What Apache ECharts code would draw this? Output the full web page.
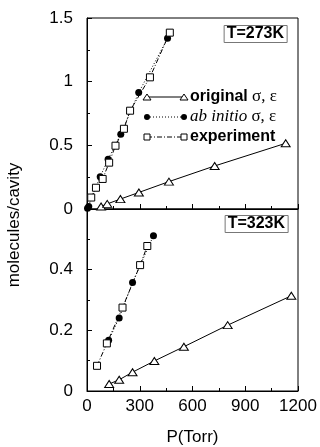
<!DOCTYPE html>
<html><head><meta charset="utf-8">
<script src="https://cdn.jsdelivr.net/npm/echarts@6/dist/echarts.min.js"></script>
<style>html,body{margin:0;padding:0;background:#fff}#c{width:320px;height:447px}</style>
</head><body><div id="c"></div>
<script>
// T = 273 K panel
const origP273 = [80, 115, 190, 295, 466, 726, 1130];
const origV273 = [0.02, 0.04, 0.078, 0.13, 0.215, 0.338, 0.516];
const abP273 = [3, 10, 75, 120, 192, 294, 458];
const abV273 = [0.006, 0.02, 0.254, 0.39, 0.588, 0.914, 1.34];
const expP273 = [24, 51, 89, 126, 162, 210, 245, 358, 471];
const expV273 = [0.09, 0.167, 0.236, 0.364, 0.497, 0.63, 0.772, 1.034, 1.385];
// T = 323 K panel
const origP323 = [126, 183, 259, 383, 551, 800, 1162];
const origV323 = [0.023, 0.037, 0.062, 0.099, 0.146, 0.217, 0.314];
const abP323 = [123, 183, 259, 378];
const abV323 = [0.167, 0.241, 0.358, 0.512];
const expP323 = [57, 113, 202, 302, 343];
const expV323 = [0.083, 0.157, 0.275, 0.415, 0.478];
// axis ticks
const xTicks = [0, 300, 600, 900, 1200];
const yTicksTop = [0, 0.5, 1, 1.5];
const yTicksBottom = [0, 0.2, 0.4, 0.6];
const panelTitles = ['T=273K', 'T=323K'];
const legendNames = ['original', 'ab initio', 'experiment'];

const zip = (a, b) => a.map((x, i) => [x, b[i]]);
const F = 'Liberation Sans';
const S = 'Liberation Serif';

const tri = {symbol: 'triangle', symbolSize: [9, 7], itemStyle: {color: '#fff', borderColor: '#000', borderWidth: 1}, lineStyle: {color: '#000', width: 1, type: 'solid'}};
const dot = {symbol: 'circle', symbolSize: 7, itemStyle: {color: '#000'}, lineStyle: {color: '#000', width: 1, type: [1, 2]}};
const sq = {symbol: 'rect', symbolSize: 7, itemStyle: {color: '#fff', borderColor: '#000', borderWidth: 1}, lineStyle: {color: '#000', width: 1, type: [5, 2, 1, 2]}};

function mk(name, style, p, v, gi) {
  return Object.assign({type: 'line', name: name, xAxisIndex: gi, yAxisIndex: gi, data: zip(p, v), showAllSymbol: true, animation: false, z: 3}, style);
}

function xAx(gi, labels) {
  return {
    gridIndex: gi, type: 'value', min: xTicks[0], max: xTicks[xTicks.length - 1], interval: xTicks[1] - xTicks[0],
    axisLine: {lineStyle: {color: '#000', width: 1}},
    axisTick: {inside: true, length: 5, lineStyle: {color: '#000'}},
    minorTick: {show: true, splitNumber: 2, length: 3, lineStyle: {color: '#000'}},
    splitLine: {show: false},
    axisLabel: {show: labels, color: '#000', fontFamily: F, fontSize: 17, margin: 7, formatter: v => String(v)},
    name: labels ? 'P(Torr)' : '', nameLocation: 'middle', nameGap: 38,
    nameTextStyle: {color: '#000', fontFamily: F, fontSize: 17}
  };
}
function yAx(gi, ticks, showMax) {
  return {
    gridIndex: gi, type: 'value', min: ticks[0], max: ticks[ticks.length - 1], interval: ticks[1] - ticks[0],
    axisLine: {lineStyle: {color: '#000', width: 1}},
    axisTick: {inside: true, length: 5, lineStyle: {color: '#000'}},
    minorTick: {show: true, splitNumber: 2, length: 3, lineStyle: {color: '#000'}},
    splitLine: {show: false},
    axisLabel: {color: '#000', fontFamily: F, fontSize: 17, margin: 14, showMaxLabel: showMax,
      formatter: v => String(+v.toFixed(2))}
  };
}

// legend drawn as graphics (line with symbol at both ends)
const LX1 = 147, LX2 = 184, LT = 190;
const rowsY = [97, 117, 137];
function legendRow(i) {
  const y = rowsY[i];
  const els = [];
  const dash = i === 0 ? null : (i === 1 ? [1, 2] : [5, 2, 1, 2]);
  els.push({type: 'line', shape: {x1: LX1, y1: y, x2: LX2, y2: y}, style: {stroke: '#000', lineWidth: 1, lineDash: dash}, z: 10});
  [LX1, LX2].forEach(x => {
    if (i === 0) els.push({type: 'polygon', shape: {points: [[x, y - 3], [x + 4, y + 3], [x - 4, y + 3]]}, style: {fill: '#fff', stroke: '#000', lineWidth: 1}, z: 11});
    else if (i === 1) els.push({type: 'circle', shape: {cx: x, cy: y, r: 3}, style: {fill: '#000'}, z: 11});
    else els.push({type: 'rect', shape: {x: x - 3, y: y - 3, width: 6, height: 6}, style: {fill: '#fff', stroke: '#000', lineWidth: 1}, z: 11});
  });
  let txt;
  if (i === 0) txt = '{b|' + legendNames[0] + '}{s| σ, ε}';
  else if (i === 1) txt = '{it|' + legendNames[1] + '}{s| σ, ε}';
  else txt = '{b|' + legendNames[2] + '}';
  els.push({type: 'text', x: LT, y: y, z: 11, style: {text: txt, verticalAlign: 'middle', align: 'left',
    rich: {
      b: {fontFamily: F, fontSize: 16, fontWeight: 'bold', fill: '#000'},
      it: {fontFamily: S, fontSize: 17, fontStyle: 'italic', fill: '#000'},
      s: {fontFamily: S, fontSize: 17, fill: '#000'}
    }}});
  return els;
}

const graphics = [].concat(legendRow(0), legendRow(1), legendRow(2), [
  {type: 'text', x: 14, y: 225, rotation: Math.PI / 2, style: {text: 'molecules/cavity', font: '17px "Liberation Sans"', fill: '#000', align: 'center', verticalAlign: 'middle'}}
]);

const chart = echarts.init(document.getElementById('c'), null, {renderer: 'canvas'});
chart.setOption({
  animation: false,
  backgroundColor: '#fff',
  title: panelTitles.map((t, i) => ({
    text: t, right: i === 0 ? 33 : 32, top: i === 0 ? 25 : 215,
    borderColor: '#777', borderWidth: 1, padding: [1, 3],
    textStyle: {fontFamily: F, fontSize: 16, fontWeight: 'bold', color: '#000', lineHeight: 16}
  })),
  grid: [
    {left: 87, top: 18, width: 211, height: 191, show: true, borderColor: '#000', borderWidth: 1, backgroundColor: 'transparent'},
    {left: 87, top: 209, width: 211, height: 189, show: true, borderColor: '#000', borderWidth: 1, backgroundColor: 'transparent'}
  ],
  xAxis: [xAx(0, false), xAx(1, true)],
  yAxis: [yAx(0, yTicksTop, true), yAx(1, yTicksBottom, false)],
  graphic: graphics,
  series: [
    mk('original 273', tri, origP273, origV273, 0),
    mk('ab initio 273', dot, abP273, abV273, 0),
    mk('experiment 273', sq, expP273, expV273, 0),
    mk('original 323', tri, origP323, origV323, 1),
    mk('ab initio 323', dot, abP323, abV323, 1),
    mk('experiment 323', sq, expP323, expV323, 1)
  ]
});
</script></body></html>
